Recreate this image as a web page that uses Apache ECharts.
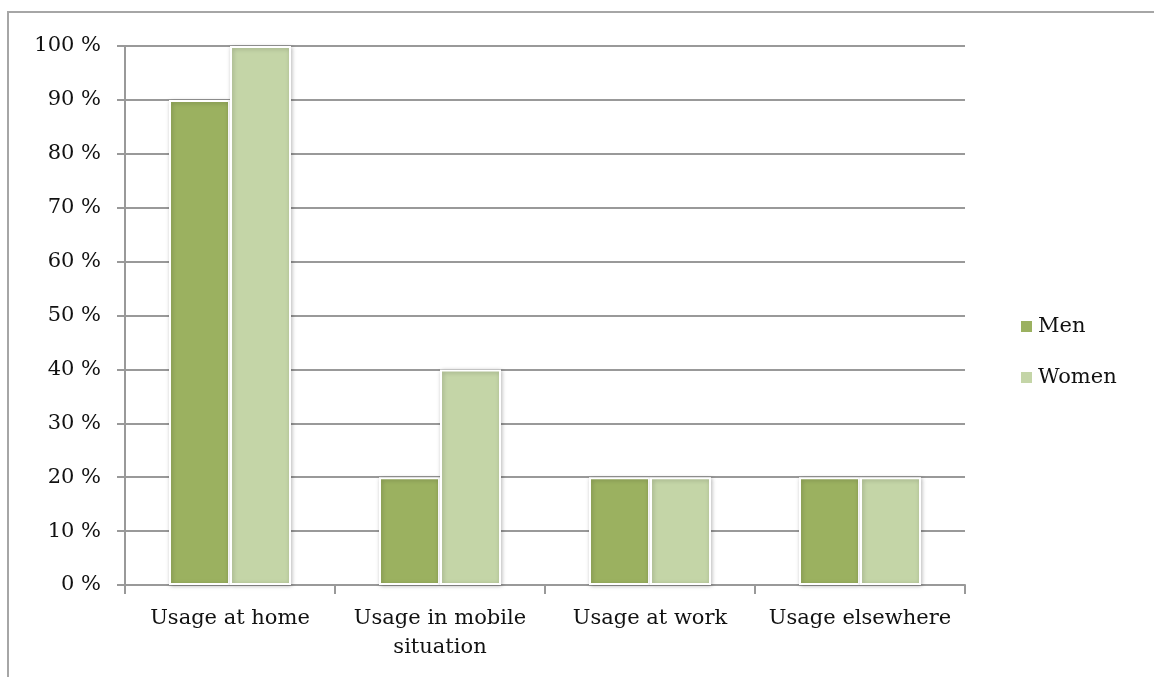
<!DOCTYPE html>
<html>
<head>
<meta charset="utf-8">
<script src="https://cdn.jsdelivr.net/npm/echarts@6/dist/echarts.min.js"></script>
<style>html,body{margin:0;padding:0;background:#fff}#c{width:1154px;height:677px}</style>
</head>
<body>
<div id="c"></div>
<script>
const categories = ['Usage at home', 'Usage in mobile\nsituation', 'Usage at work', 'Usage elsewhere'];
const menValues = [90, 20, 20, 20];
const womenValues = [100, 40, 20, 20];
const seriesNames = ['Men', 'Women'];

const font = 'DejaVu Serif';
const chart = echarts.init(document.getElementById('c'));
const barStyle = (c) => ({color: c, borderColor: '#fff', borderWidth: 2, shadowColor: 'rgba(0,0,0,0.25)', shadowBlur: 4, shadowOffsetX: 1, shadowOffsetY: 1});
chart.setOption({
  animation: false,
  graphic: [{type: 'rect', shape: {x: 8, y: 12, width: 1200, height: 720}, style: {fill: 'none', stroke: '#a6a6a6', lineWidth: 2}, silent: true}],
  grid: {left: 125, right: 189, top: 46, bottom: 92},
  legend: {
    orient: 'vertical', left: 1014, top: 311, itemWidth: 13, itemHeight: 13, itemGap: 30,
    icon: 'rect',
    textStyle: {fontFamily: font, fontSize: 21, color: '#111'},
    data: seriesNames
  },
  xAxis: {
    type: 'category', data: categories,
    axisLine: {lineStyle: {color: '#999', width: 2}},
    axisTick: {show: true, interval: 0, length: 9, lineStyle: {color: '#999', width: 2}},
    axisLabel: {interval: 0, fontFamily: font, fontSize: 21, color: '#111', margin: 19, lineHeight: 29}
  },
  yAxis: {
    type: 'value', min: 0, max: 100, interval: 10,
    axisLine: {show: true, lineStyle: {color: '#999', width: 2}},
    axisTick: {show: true, length: 8, lineStyle: {color: '#999', width: 2}},
    axisLabel: {fontFamily: font, fontSize: 21, color: '#111', margin: 24, formatter: '{value} %'},
    splitLine: {lineStyle: {color: '#999', width: 2}}
  },
  series: [
    {name: seriesNames[0], type: 'bar', data: menValues, barWidth: 61, barGap: '0%', itemStyle: barStyle('#9bb160')},
    {name: seriesNames[1], type: 'bar', data: womenValues, barWidth: 61, barGap: '0%', itemStyle: barStyle('#c4d5a7')}
  ]
});
</script>
</body>
</html>
